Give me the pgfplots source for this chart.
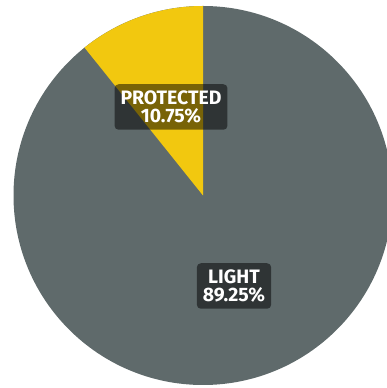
\documentclass[border=0pt]{standalone}
\usepackage{pgfplots}
\pgfplotsset{compat=1.18}
\usepackage{fontspec}
\setmainfont{Fira Sans}
\definecolor{pgray}{RGB}{95,106,107}
\definecolor{pyellow}{RGB}{242,200,15}
\begin{document}
\begin{tikzpicture}
\useasboundingbox (0,0) rectangle (387bp,388bp);
\clip (0,0) rectangle (387bp,388bp);
\def\vProtected{10.75}
\def\vLight{89.25}
\pgfmathsetmacro\aEnd{90+3.6*\vProtected}
\begin{axis}[at={(0,0)},anchor=south west,
  scale only axis, width=387bp, height=388bp,
  xmin=0,xmax=387,ymin=0,ymax=388, hide axis, clip=false]
  \fill[pgray] (axis cs:203,192.5) circle[radius=189.5];
  \fill[pyellow] (axis cs:203,192.5) -- ++(90:189.5bp) arc[start angle=90, end angle=\aEnd, radius=189.5bp] -- cycle;
  \node[fill=black, fill opacity=0.5, text opacity=1, text=white, rounded corners=4bp,
    align=center, font=\fontsize{19.5}{19}\selectfont\bfseries, inner xsep=6bp, inner ysep=6bp]
    at (axis cs:171,281) {PROTECTED\\10.75\%};
  \node[fill=black, fill opacity=0.5, text opacity=1, text=white, rounded corners=4bp,
    align=center, font=\fontsize{19.5}{19}\selectfont\bfseries, inner xsep=6bp, inner ysep=6bp]
    at (axis cs:234,102) {LIGHT\\89.25\%};
\end{axis}
\end{tikzpicture}
\end{document}
